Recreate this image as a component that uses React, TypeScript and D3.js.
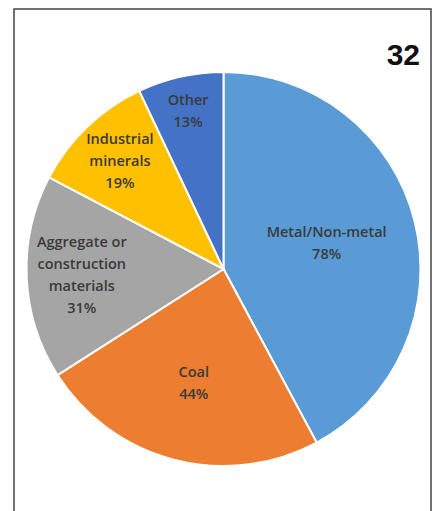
import React from 'react';
import * as d3 from 'd3';

const categories = ['Metal/Non-metal', 'Coal', 'Aggregate or construction materials', 'Industrial minerals', 'Other'];
const values = [78, 44, 31, 19, 13];
const labelLines = [
  ['Metal/Non-metal', '78%'],
  ['Coal', '44%'],
  ['Aggregate or', 'construction', 'materials', '31%'],
  ['Industrial', 'minerals', '19%'],
  ['Other', '13%'],
];
const colors = ['#5B9BD5', '#ED7D31', '#A5A5A5', '#FFC000', '#4472C4'];

// where each label sits, as a fraction of the radius
const labelRadius = [0.54, 0.6, 0.72, 0.76, 0.82];

const W = 436;
const H = 511;
const cx = 223.5;
const cy = 269;
const R = 197;

const App: React.FC = () => {
  const pie = d3.pie<number>().sort(null).value(d => d);
  const arcs = pie(values);
  const arc = d3.arc<d3.PieArcDatum<number>>().innerRadius(0).outerRadius(R);

  return (
    <svg width={W} height={H} style={{ position: 'absolute', left: 0, top: 0, background: '#fff' }}>
      <rect x={14} y={9} width={417} height={520} fill="#fff" stroke="#444" strokeWidth={1.5} />
      <g transform={`translate(${cx},${cy})`}>
        {arcs.map((a, i) => (
          <path key={categories[i]} d={arc(a) || ''} fill={colors[i]} stroke="#fff" strokeWidth={2} />
        ))}
        {arcs.map((a, i) => {
          const mid = (a.startAngle + a.endAngle) / 2;
          const r = R * labelRadius[i];
          const x = Math.sin(mid) * r;
          const y = -Math.cos(mid) * r;
          const lines = labelLines[i];
          const lh = 22;
          const y0 = y - ((lines.length - 1) * lh) / 2;
          return (
            <text key={'l' + i} x={x} textAnchor="middle" fontFamily="'Open Sans', sans-serif" fontSize={14.5}
              fontWeight={600} fill="#3a3a3a">
              {lines.map((t, j) => (
                <tspan key={j} x={x} y={y0 + j * lh} dy="0.35em">{t}</tspan>
              ))}
            </text>
          );
        })}
      </g>
      <text x={420} y={65} textAnchor="end" fontFamily="'Liberation Sans Narrow', 'Liberation Sans', sans-serif"
        fontWeight="bold" fontSize={30} fill="#111">32</text>
    </svg>
  );
};

export default App;
